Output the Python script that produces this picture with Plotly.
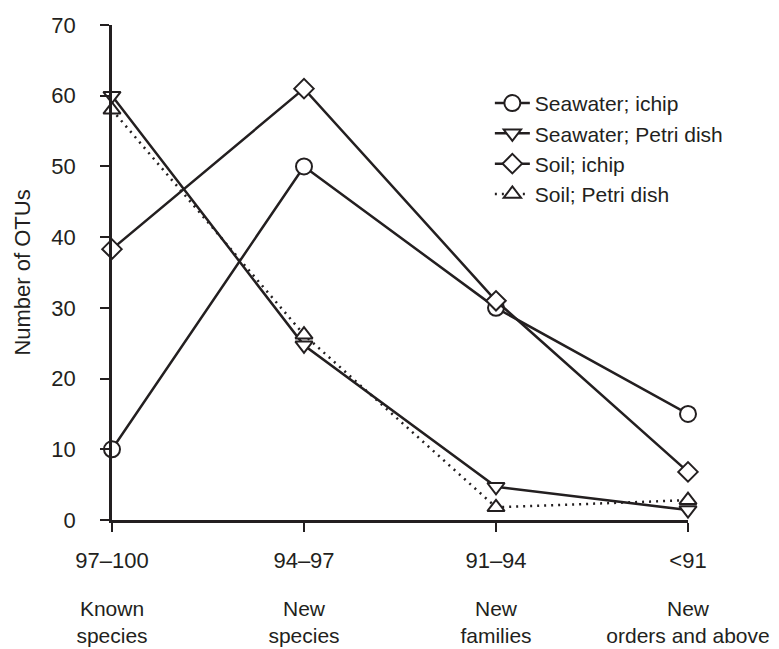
import plotly.graph_objects as go

x_pos = [0, 1, 2, 3]
range_labels = ["97–100", "94–97", "91–94", "<91"]
category_labels = ["Known<br>species", "New<br>species",
                   "New<br>families", "New<br>orders and above"]

seawater_ichip = [10, 50, 30, 15]
seawater_petri = [60, 24.7, 4.7, 1.4]
soil_ichip = [38.3, 61, 31, 6.8]
soil_petri = [58, 26.2, 1.8, 2.8]

INK = "#231f20"
FONT = dict(family="Liberation Sans, Arial, sans-serif", size=22, color=INK)
CAT_FONT = dict(family="Liberation Sans, Arial, sans-serif", size=21, color=INK)
LEGEND_FONT = dict(family="Liberation Sans, Arial, sans-serif", size=21, color=INK)

fig = go.Figure()

def add(name, y, symbol, size, dash="solid", xaxis="x"):
    fig.add_trace(go.Scatter(
        x=x_pos, y=y, name=name, mode="lines+markers",
        line=dict(color=INK, width=2.5, dash=dash),
        marker=dict(symbol=symbol, size=size, color="white",
                    line=dict(color=INK, width=2)),
        cliponaxis=False, xaxis=xaxis,
    ))

add("Seawater; ichip", seawater_ichip, "circle", 16)
add("Seawater; Petri dish", seawater_petri, "triangle-down", 15)
add("Soil; ichip", soil_ichip, "diamond", 15)
add("Soil; Petri dish", soil_petri, "triangle-up", 15, dash="2px,5px", xaxis="x2")

fig.update_layout(
    width=771, height=641,
    margin=dict(l=104, r=91, t=17, b=129),
    paper_bgcolor="white", plot_bgcolor="white",
    font=FONT,
    showlegend=True,
    legend=dict(x=0.656, y=0.883, xanchor="left", yanchor="top",
                traceorder="normal", font=LEGEND_FONT,
                bgcolor="rgba(0,0,0,0)", itemwidth=35),
    xaxis=dict(range=[0, 3], tickmode="array", tickvals=x_pos,
               ticktext=range_labels, showgrid=False, zeroline=False,
               showline=True, linecolor=INK, linewidth=2.5,
               ticks="outside", ticklen=9, tickwidth=2, tickcolor=INK,
               ticklabelstandoff=10, tickfont=FONT, automargin=False),
    xaxis2=dict(range=[0, 3], overlaying="x", anchor="y", side="bottom",
                tickmode="array", tickvals=x_pos, ticktext=category_labels,
                showgrid=False, zeroline=False, showline=False,
                ticks="", ticklabelstandoff=74, tickfont=CAT_FONT,
                automargin=False),
    yaxis=dict(range=[0, 70], tickmode="array",
               tickvals=[0, 10, 20, 30, 40, 50, 60, 70],
               showgrid=False, zeroline=False,
               showline=True, linecolor=INK, linewidth=2.5,
               ticks="outside", ticklen=9, tickwidth=2, tickcolor=INK,
               ticklabelstandoff=20, tickfont=FONT, automargin=False,
               title=dict(text="Number of OTUs", font=FONT, standoff=15)),
)

fig.write_html("out.html")
